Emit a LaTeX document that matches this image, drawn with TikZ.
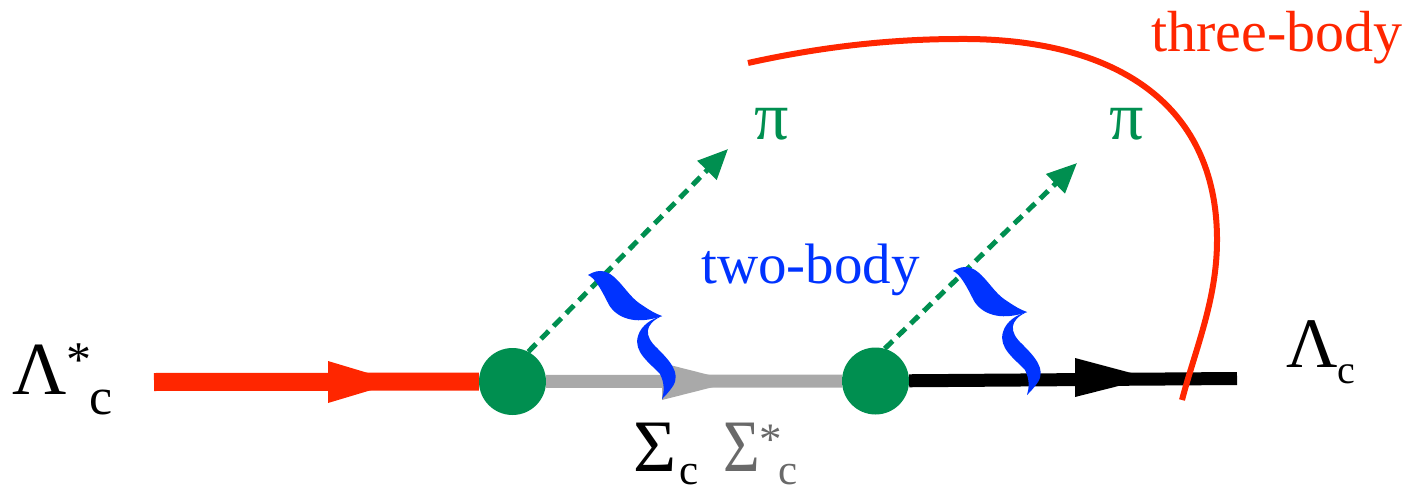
\documentclass[tikz,border=0pt]{standalone}
\usepackage{fontspec}
\usepackage{graphicx}
\setmainfont{Liberation Serif}
\usetikzlibrary{arrows.meta}
\definecolor{fred}{RGB}{255,38,0}
\definecolor{fgreen}{RGB}{0,143,80}
\definecolor{fblue}{RGB}{0,51,255}
\definecolor{lgrey}{RGB}{169,169,169}
\definecolor{tgrey}{RGB}{105,105,105}
\newcommand\myfs[1]{\fontsize{#1}{#1}\selectfont}
\tikzset{
  vertex/.style={circle, fill=fgreen, minimum size=67pt, inner sep=0pt},
  lbl/.style={anchor=base west, inner sep=0pt},
  pion/.style={draw=fgreen, line width=5pt, dash pattern=on 11pt off 7pt, -{Triangle[length=30pt,width=26pt]}, fgreen},
  bracepic/.pic={
    \fill[fblue] (0,0) .. controls (24,-15) and (34,16) .. (51,28)
      .. controls (61,35) and (68,39) .. (74,41)
      .. controls (52,49) and (31,46) .. (21,30)
      .. controls (13,14) and (7,3) .. (0,0) -- cycle;
    \fill[fblue] (74,41) .. controls (56,49) and (56,61) .. (69,73)
      .. controls (82,86) and (93,98) .. (85,111)
      .. controls (81,117) and (77,121) .. (74,124)
      .. controls (76,117) and (77,109) .. (72,99)
      .. controls (62,88) and (45,77) .. (50,61)
      .. controls (53,50) and (65,43) .. (74,41) -- cycle;
  }
}
\begin{document}
\begin{tikzpicture}[x=1pt,y=-1pt]
\useasboundingbox (0,0) rectangle (1412,489);
% vertices
\node[vertex] (v1) at (512.5,381.5) {};
\node[vertex] (v2) at (875.5,381) {};
\coordinate (lin) at (154,382);
\coordinate (lout) at (1237,378.5);
\coordinate (pitip1) at (728,149);
\coordinate (pitip2) at (1077,163);
% propagators
\draw[fred, line width=18pt] (lin) -- (v1);
\fill[fred] (328,361) -- (328,403) -- (398,382) -- cycle;
\draw[lgrey, line width=13pt] (v1) -- (v2);
\fill[lgrey] (662,363) -- (662,400) -- (735,381.5) -- cycle;
\draw[black, line width=13pt] (v2) -- (lout);
\fill[black] (1075,358) -- (1075,397) -- (1150,378) -- cycle;
% pions
\draw[pion] (v1.62) -- (pitip1);
\draw[pion] (v2.74) -- (pitip2);
% braces
\pic at (588,275) {bracepic};
\pic at (953,271) {bracepic};
% three-body curve
\draw[fred, line width=6pt] (748,63) .. controls (820,47) and (890,39) .. (960,39)
  .. controls (1110,38) and (1217,100) .. (1217,240)
  .. controls (1217,300) and (1195,350) .. (1182,400);
% labels
\node[lbl] (lamstar) at (12,394) {\myfs{75}Λ\raisebox{18pt}{\myfs{50}*}\kern-2pt\raisebox{-20pt}{\myfs{52}c}};
\node[lbl] (lamc) at (1286,367) {\myfs{71}Λ\raisebox{-16pt}{\myfs{40}c}};
\node[lbl] (sigc) at (633,471) {\myfs{74}Σ\kern3pt\raisebox{-13pt}{\myfs{43}c}};
\node[lbl, text=tgrey] (sigstar) at (723,471) {\scalebox{0.85}[1]{\myfs{74}Σ}\raisebox{17pt}{\myfs{45}*}\kern-4pt\raisebox{-13pt}{\myfs{43}c}};
\node[anchor=base, inner sep=0pt, text=fgreen] (pi1) at (771.5,140) {\myfs{68}π};
\node[anchor=base, inner sep=0pt, text=fgreen] (pi2) at (1126.5,140) {\myfs{68}π};
\node[lbl, text=fblue] (two) at (701,283) {\myfs{57}two-body};
\node[lbl, text=fred] (three) at (1151,52) {\myfs{58}three-body};
\end{tikzpicture}
\end{document}
